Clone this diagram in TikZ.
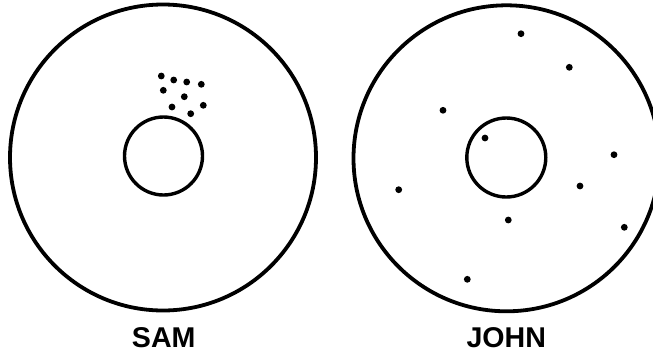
\documentclass[tikz,border=0pt]{standalone}
\usepackage{fontspec}
\setmainfont{Liberation Sans}
\begin{document}
\begin{tikzpicture}[x=1pt,y=-1pt,
  ring/.style={draw=black,line width=3.8pt,circle,inner sep=0pt,minimum size=#1},
  hole/.style={draw=black,line width=3.4pt,circle,inner sep=0pt,minimum size=#1},
  dot/.style={fill=black,circle,inner sep=0pt,minimum size=6.8pt},
  lbl/.style={font=\fontsize{28.6}{30}\selectfont\bfseries,inner sep=0pt,anchor=base}]
\useasboundingbox (0,0) rectangle (653,354);
\begin{scope}
\clip (0,0) rectangle (653,354);
% SAM
\node[ring=306pt] (samout) at (163,157.5) {};
\node[hole=78pt] (samin) at (163.5,156) {};
\foreach \p [count=\i] in {(161.3,76),(173.7,80),(186.7,82),(201.3,84.3),(163.3,90.3),(184.3,96.7),(172,107),(203.3,105.3),(190.7,113.7)}
  \node[dot] (sd\i) at \p {};
% JOHN
\node[ring=306pt] (johnout) at (506.5,158.3) {};
\node[hole=79pt] (johnin) at (506.3,157.5) {};
\foreach \p [count=\i] in {(521,33.7),(569.3,67.3),(443,110.3),(485,138),(614,154.7),(398.7,189.7),(580,186),(508.3,220),(624.3,227.3),(467.3,279.3)}
  \node[dot] (jd\i) at \p {};
\end{scope}
\node[lbl] (sam) at (163.7,347.7) {SAM};
\node[lbl] (john) at (506.3,347.7) {JOHN};
\end{tikzpicture}
\end{document}
